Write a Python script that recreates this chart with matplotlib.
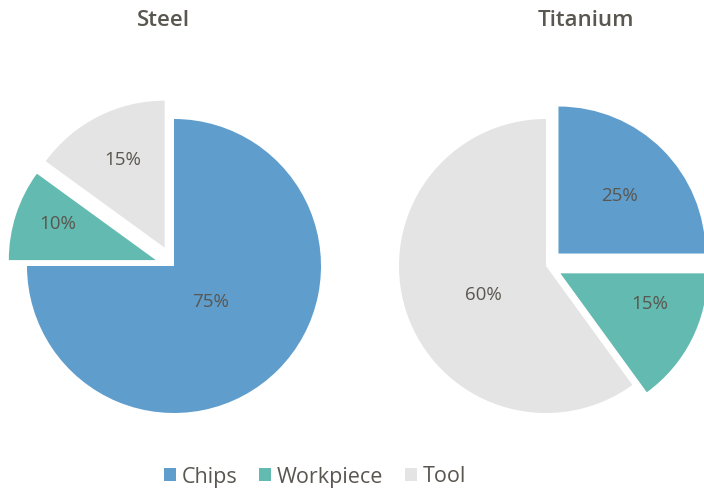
import numpy as np
import matplotlib
matplotlib.use("Agg")
import matplotlib.pyplot as plt

# datos
categorias = ["Chips", "Workpiece", "Tool"]
materiales = ["Steel", "Titanium"]
acero = [75, 10, 15]
titanio = [25, 15, 60]

colores = ["#5f9dcd", "#62bab0", "#e4e4e4"]
gris_texto = "#5a5650"

plt.rcParams['font.family'] = ['Open Sans', 'DejaVu Sans']

W, H = 704, 495
fig = plt.figure(figsize=(W / 100, H / 100), dpi=100)

R = 147.0  # radio en pixeles
lim = 1.35


def eje_pie(cx, cy):
    # caja cuadrada en pixeles centrada en (cx, cy) (desde arriba)
    w = 2 * lim * R
    return fig.add_axes([(cx - w / 2) / W, 1 - (cy + w / 2) / H, w / W, w / H])


def pastel(ax, valores, explode, dist, giro):
    wedges, textos, autos = ax.pie(valores, colors=colores, startangle=90,
                                   counterclock=False, explode=explode,
                                   autopct='%d%%', textprops=dict(color=gris_texto, fontsize=13.5),
                                   wedgeprops=dict(linewidth=0))
    # reacomodo de etiquetas por rebanada
    for w, t, d, g in zip(wedges, autos, dist, giro):
        ang = np.deg2rad((w.theta1 + w.theta2) / 2 + g)
        t.set_position((d * np.cos(ang), d * np.sin(ang)))
    ax.set_xlim(-lim, lim)
    ax.set_ylim(-lim, lim)
    return wedges


ax1 = eje_pie(174, 266)
cunas = pastel(ax1, acero, [0, 0.13, 0.14], [0.35, 0.84, 0.80], [1, -2, -1.3])

ax2 = eje_pie(546, 266)
pastel(ax2, titanio, [0.12, 0.11, 0], [0.69, 0.75, 0.47], [-1.6, 7, 7])

fig.text(163 / W, 1 - 21 / H, materiales[0], ha='center', va='center',
         fontsize=16, fontweight='semibold', color=gris_texto)
fig.text(586 / W, 1 - 21 / H, materiales[1], ha='center', va='center',
         fontsize=16, fontweight='semibold', color=gris_texto)

fig.legend(cunas, categorias, loc='center', bbox_to_anchor=(315 / W, 1 - 477 / H),
           ncol=3, frameon=False, handlelength=0.56, handleheight=0.56,
           handletextpad=0.28, columnspacing=1.0, fontsize=15.5, labelcolor=gris_texto)

fig.savefig("out.png", dpi=100)
